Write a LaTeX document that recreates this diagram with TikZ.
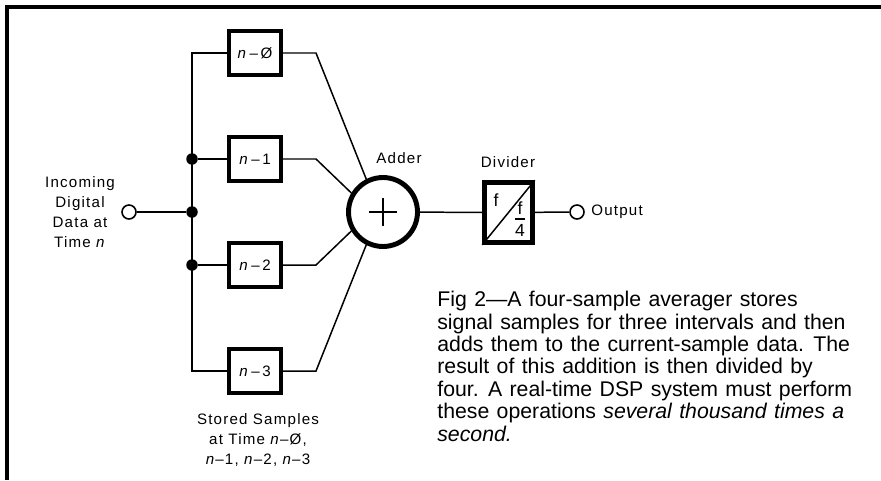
\documentclass[tikz,border=0pt]{standalone}
\usepackage{fontspec}
\setmainfont[WordSpace=1.25]{Liberation Sans}
\newfontfamily\labfont[LetterSpace=8]{Liberation Sans}
\usetikzlibrary{calc}

\begin{document}
\begin{tikzpicture}[x=0.02cm,y=-0.02cm,
  every node/.style={font=\labfont\fontsize{8.6}{11.3}\selectfont},
  wire/.style={draw=black,line width=0.85pt},
  frame/.style={draw=black,line width=2.2pt},
  store/.style={draw=black,line width=2.4pt,fill=white,inner sep=0pt,minimum width=1.04cm,minimum height=0.88cm},
  divbox/.style={draw=black,line width=2.6pt,inner sep=0pt,minimum width=0.96cm,minimum height=1.2cm},
  addr/.style={circle,draw=black,line width=2.8pt,inner sep=0pt,minimum size=1.38cm},
  dot/.style={circle,fill=black,inner sep=0pt,minimum size=0.23cm},
  port/.style={circle,draw=black,line width=0.9pt,fill=white,inner sep=0pt,minimum size=0.28cm},
  lab/.style={align=center,inner sep=0pt},
  capt/.style={align=left,inner sep=0pt,anchor=north west,font=\rmfamily\fontsize{12.1}{12.75}\selectfont}]
\useasboundingbox (0,0) rectangle (881,480);
\draw[frame] (7,480) -- (7,7) -- (881,7);
\node[store] (n0) at (255,53) {\textit{n}\,–\,Ø};
\node[store] (n1) at (255,159) {\textit{n}\,–\,1};
\node[store] (n2) at (255,265) {\textit{n}\,–\,2};
\node[store] (n3) at (255,371) {\textit{n}\,–\,3};
\node[addr] (adder) at (383,212) {};
\node[divbox] (div) at (508.5,212.5) {};
\node[port] (in) at (129,212) {};
\node[port] (out) at (577,212) {};
\node[dot] (j1) at (192,159) {};
\node[dot] (jm) at (192,212) {};
\node[dot] (j2) at (192,265) {};
\coordinate (b0) at (316,53);
\coordinate (b1) at (316,159);
\coordinate (b2) at (316,265);
\coordinate (b3) at (316,371);
\node[lab] (inlab) at (80,212) {Incoming\\Digital\\Data at\\Time \textit{n}};
\node[lab] (outlab) at (591,212) [anchor=west] {Output};
\node[lab] (addlab) at (399,158) {Adder};
\node[lab] (divlab) at (508,162) {Divider};
\node[lab] (stlab) at (258,440) {Stored Samples\\at Time \textit{n}–Ø,\\\textit{n}–1, \textit{n}–2, \textit{n}–3};
\node[lab,font=\labfont\fontsize{10}{11}\selectfont] (f1) at (496,200) {f};
\node[lab,font=\labfont\fontsize{10}{11}\selectfont] (f2) at (520,208) {f};
\node[lab,font=\labfont\fontsize{10}{11}\selectfont] (f3) at (520,230) {4};
\node[capt] (cap) at (437,291) {Fig 2---A four-sample averager stores\\
signal samples for three intervals and then\\
adds them to the current-sample data. The\\
result of this addition is then divided by\\
four. A real-time DSP system must perform\\
these operations \textit{several thousand times a}\\
\textit{second.}};
\draw[wire] (n0.west) -| (jm.center) |- (n3.west);
\draw[wire] (in) -- (jm);
\foreach \x in {1,2} \draw[wire] (j\x) -- (n\x.west);
\draw[wire] (n0.east) -- (b0) -- (adder.117);
\draw[wire] (n1.east) -- (b1) -- (adder.149);
\draw[wire] (n2.east) -- (b2) -- (adder.211);
\draw[wire] (n3.east) -- (b3) -- (adder.243);
\draw[wire] (adder) -- (div);
\draw[wire] (div) -- (out);
\draw[wire,line width=0.7pt] (adder.center) ++(-14,0) -- ++(28,0);
\draw[wire,line width=0.7pt] (adder.center) ++(0,-14) -- ++(0,28);
\draw[wire] (div.south west) -- (div.north east);
\draw[wire] (515,219) -- (525,219);
\end{tikzpicture}
\end{document}
